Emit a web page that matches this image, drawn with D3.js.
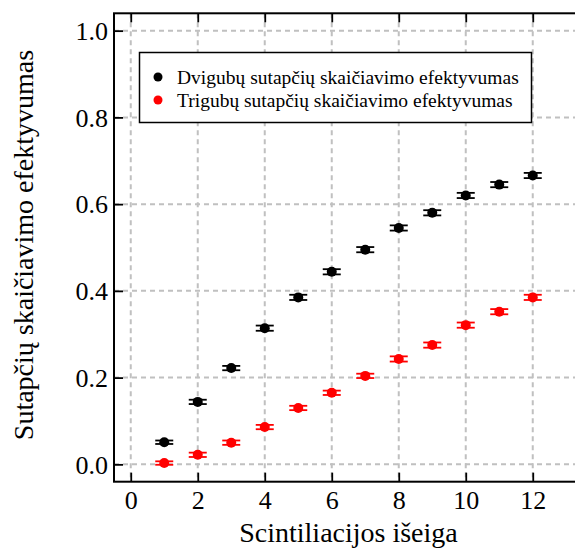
<!DOCTYPE html>
<html>
<head>
<meta charset="utf-8">
<script src="https://cdn.jsdelivr.net/npm/d3@7"></script>
<style>
  body { margin: 0; background: #fff; }
  svg text { font-family: "Liberation Serif", serif; fill: #000; }
</style>
</head>
<body>
<div id="chart"></div>
<script>
// scintiliacijos išeiga
let xs = [1, 2, 3, 4, 5, 6, 7, 8, 9, 10, 11, 12];
// dvigubų sutapčių efektyvumas
let dvig = [0.051, 0.144, 0.222, 0.314, 0.385, 0.444, 0.495, 0.545, 0.580, 0.620, 0.645, 0.666];
let dvigErr = [0.004, 0.005, 0.005, 0.006, 0.006, 0.006, 0.006, 0.006, 0.006, 0.006, 0.006, 0.006];
// trigubų sutapčių efektyvumas
let trig = [0.003, 0.022, 0.050, 0.086, 0.130, 0.165, 0.204, 0.243, 0.275, 0.321, 0.352, 0.385];
let trigErr = [0.004, 0.005, 0.005, 0.005, 0.005, 0.005, 0.005, 0.006, 0.006, 0.006, 0.006, 0.006];

let xTicks = [0, 2, 4, 6, 8, 10, 12];
let yTicks = [0.0, 0.2, 0.4, 0.6, 0.8, 1.0];

let seriesNames = ["Dvigubų sutapčių skaičiavimo efektyvumas", "Trigubų sutapčių skaičiavimo efektyvumas"];
let seriesColors = ["#000000", "#ff0000"];

let width = 575, height = 552;
let mLeft = 114, mRight = 583, mTop = 13.3, mBottom = 481.7;
let serif = "Liberation Serif";

let x = d3.scaleLinear().domain([-0.5, 13.5]).range([mLeft, mRight]);
let y = d3.scaleLinear().domain([-0.04, 1.04]).range([mBottom, mTop]);

let svg = d3.select("#chart").append("svg")
    .attr("width", width)
    .attr("height", height);

// grid
let grid = svg.append("g")
    .attr("stroke", "#c0c0c0")
    .attr("stroke-width", 2)
    .attr("stroke-dasharray", "5,4");
grid.selectAll(".gx").data(xTicks).enter().append("line")
    .attr("x1", d => x(d)).attr("x2", d => x(d))
    .attr("y1", mTop).attr("y2", mBottom);
grid.selectAll(".gy").data(yTicks).enter().append("line")
    .attr("x1", mLeft).attr("x2", mRight)
    .attr("y1", d => y(d)).attr("y2", d => y(d));

// axes, ticks pointing inside
let tickLen = 9;
let axB = svg.append("g").attr("transform", "translate(0," + mBottom + ")")
    .call(d3.axisBottom(x).tickValues(xTicks).tickSizeInner(-tickLen).tickSizeOuter(0).tickPadding(9).tickFormat(d3.format("d")));
let axT = svg.append("g").attr("transform", "translate(0," + mTop + ")")
    .call(d3.axisTop(x).tickValues(xTicks).tickSizeInner(-tickLen).tickSizeOuter(0).tickFormat(""));
let axL = svg.append("g").attr("transform", "translate(" + mLeft + ",0)")
    .call(d3.axisLeft(y).tickValues(yTicks).tickSizeInner(-tickLen).tickSizeOuter(0).tickPadding(6).tickFormat(d3.format(".1f")));

[axB, axT, axL].forEach(a => {
  a.attr("font-family", serif).attr("font-size", 26);
  a.select(".domain").remove();
  a.selectAll(".tick line").attr("stroke", "#000").attr("stroke-width", 1.8);
  a.selectAll(".tick text").attr("font-family", serif).style("font-size", "26px");
});
axL.selectAll(".tick text").attr("dy", "0.34em");

// frame
svg.append("rect")
    .attr("x", mLeft).attr("y", mTop)
    .attr("width", mRight - mLeft).attr("height", mBottom - mTop)
    .attr("fill", "none").attr("stroke", "#000").attr("stroke-width", 2);

// series with error bars
let series = [
  { vals: dvig, err: dvigErr, color: seriesColors[0] },
  { vals: trig, err: trigErr, color: seriesColors[1] }
];
let capW = 9;
series.forEach(s => {
  let g = svg.append("g");
  let pts = g.selectAll("g.pt").data(xs.map((d, i) => ({ x: d, v: s.vals[i], e: s.err[i] })))
    .enter().append("g");
  pts.append("line")
    .attr("x1", d => x(d.x)).attr("x2", d => x(d.x))
    .attr("y1", d => y(d.v - d.e)).attr("y2", d => y(d.v + d.e))
    .attr("stroke", s.color).attr("stroke-width", 1.8);
  pts.append("line")
    .attr("x1", d => x(d.x) - capW).attr("x2", d => x(d.x) + capW)
    .attr("y1", d => y(d.v - d.e)).attr("y2", d => y(d.v - d.e))
    .attr("stroke", s.color).attr("stroke-width", 1.8);
  pts.append("line")
    .attr("x1", d => x(d.x) - capW).attr("x2", d => x(d.x) + capW)
    .attr("y1", d => y(d.v + d.e)).attr("y2", d => y(d.v + d.e))
    .attr("stroke", s.color).attr("stroke-width", 1.8);
  pts.append("circle")
    .attr("cx", d => x(d.x)).attr("cy", d => y(d.v))
    .attr("r", 5).attr("fill", s.color);
});

// legend
let lg = svg.append("g");
lg.append("rect")
    .attr("x", 139.5).attr("y", 52.5)
    .attr("width", 392).attr("height", 70)
    .attr("fill", "#fff").attr("stroke", "#000").attr("stroke-width", 1.5);
seriesNames.forEach((n, i) => {
  lg.append("circle").attr("cx", 158).attr("cy", 77 + i * 23).attr("r", 4.5).attr("fill", seriesColors[i]);
  lg.append("text").attr("x", 177).attr("y", 83.5 + i * 23)
    .attr("font-family", serif)
    .style("font-size", "19.5px").text(n);
});

// axis labels
svg.append("text")
    .attr("x", (mLeft + mRight) / 2).attr("y", 542)
    .attr("text-anchor", "middle")
    .attr("font-family", serif)
    .style("font-size", "28px")
    .text("Scintiliacijos išeiga");
svg.append("text")
    .attr("transform", "translate(33,245) rotate(-90)")
    .attr("text-anchor", "middle")
    .attr("font-family", serif)
    .style("font-size", "28px")
    .text("Sutapčių skaičiavimo efektyvumas");
</script>
</body>
</html>
